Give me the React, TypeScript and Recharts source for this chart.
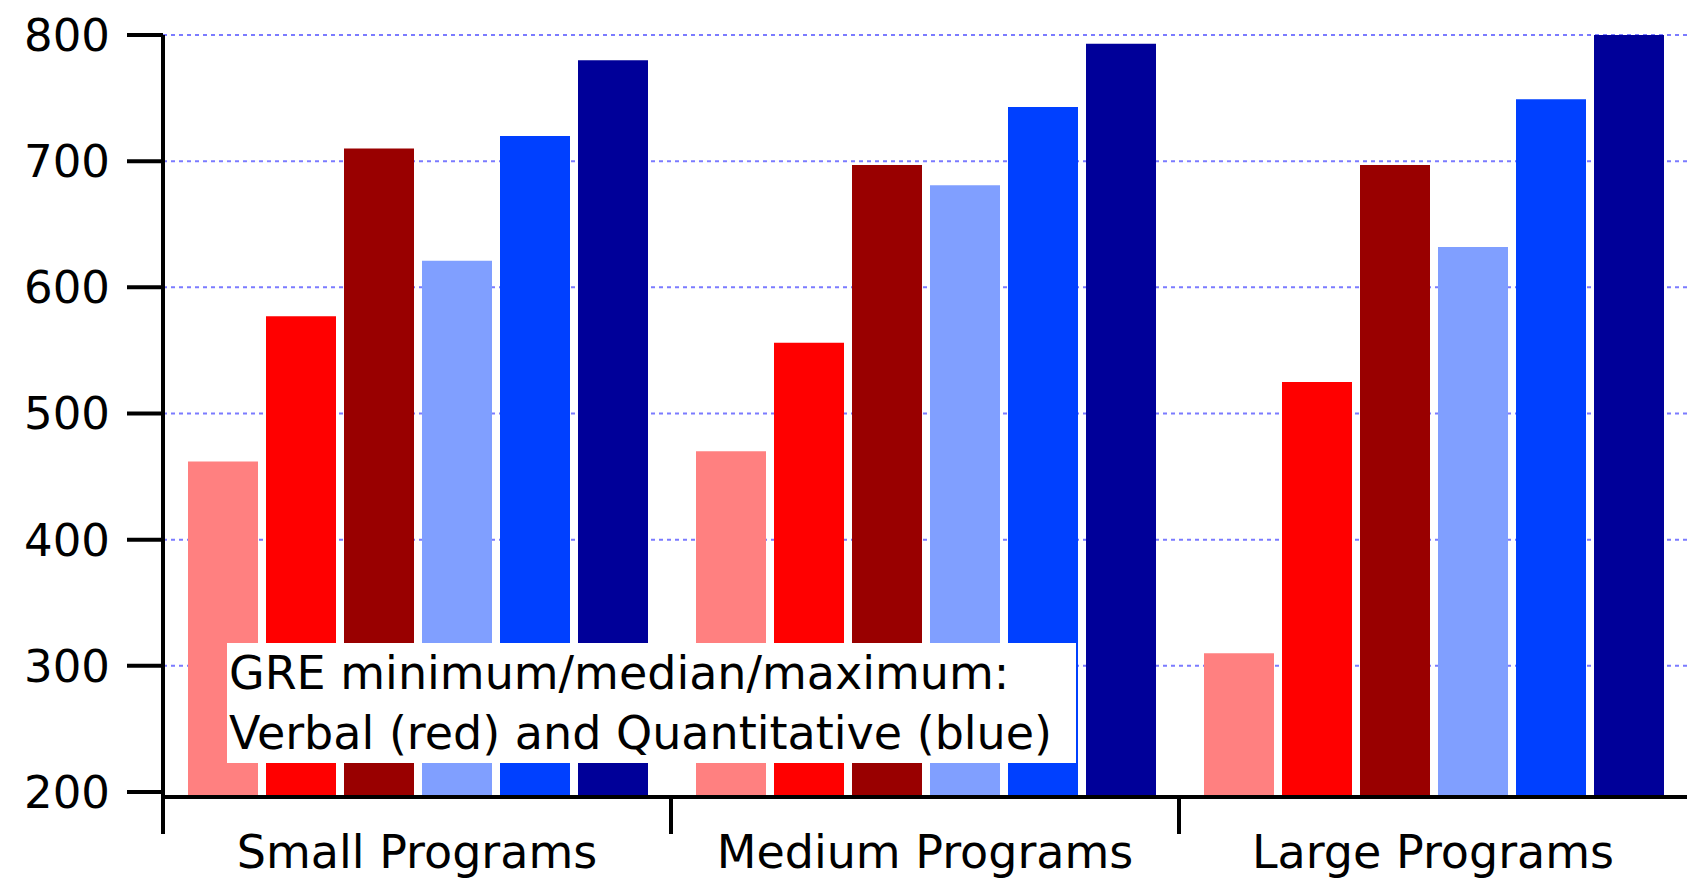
import { BarChart, Bar, XAxis, YAxis, CartesianGrid } from "recharts"

const programs = ["Small Programs", "Medium Programs", "Large Programs"]
const verbalMin = [462, 470, 310]
const verbalMedian = [577, 556, 525]
const verbalMax = [710, 697, 697]
const quantMin = [621, 681, 632]
const quantMedian = [720, 743, 749]
const quantMax = [780, 793, 800]
const yTicks = [200, 300, 400, 500, 600, 700, 800]
const gridValues = [300, 400, 500, 600, 700, 800]

const data = programs.map((program, i) => ({
    program,
    verbalMin: verbalMin[i],
    verbalMedian: verbalMedian[i],
    verbalMax: verbalMax[i],
    quantMin: quantMin[i],
    quantMedian: quantMedian[i],
    quantMax: quantMax[i],
}))

const series = [
    { key: "verbalMin", color: "#FF8080" },
    { key: "verbalMedian", color: "#FF0000" },
    { key: "verbalMax", color: "#990000" },
    { key: "quantMin", color: "#809FFF" },
    { key: "quantMedian", color: "#0040FF" },
    { key: "quantMax", color: "#000099" },
]

const font = "'DejaVu Sans', Verdana, sans-serif"

// category label plus a tick mark at the left edge of each band
const CategoryTick = (props: any) => {
    const { x, y, payload } = props
    const edge = payload.coordinate - (payload.offset ?? 0)
    return (
        <g>
            <line x1={edge} y1={y - 38} x2={edge} y2={y - 1} stroke="#000" strokeWidth={4} />
            <text x={x} y={y} dy="0.71em" textAnchor="middle" fontSize={46} fontFamily={font} fill="#000">
                {payload.value}
            </text>
        </g>
    )
}

export default function App() {
    return (
        <>
            <style>{"html,body{margin:0;overflow:hidden}"}</style>
            <div style={{ position: "relative", width: 1687, height: 878, fontFamily: font }}>
                <BarChart width={1687} height={878} data={data}
                    margin={{ top: 35, right: 0, left: 0, bottom: 0 }}
                    barCategoryGap={25} barGap={8}>
                    <CartesianGrid vertical={false} horizontalValues={gridValues}
                        stroke="#7B7BFF" strokeWidth={2} strokeDasharray="4 4" />
                    <XAxis dataKey="program" height={81} tickLine={false} tickSize={37} tickMargin={1}
                        axisLine={{ stroke: "#000", strokeWidth: 4 }} interval={0} tick={<CategoryTick />} />
                    <YAxis width={163} domain={[196, 800]} ticks={yTicks} interval={0}
                        tickSize={36} tickMargin={17}
                        axisLine={{ stroke: "#000", strokeWidth: 4 }}
                        tickLine={{ stroke: "#000", strokeWidth: 4 }}
                        tick={{ fontSize: 45, fill: "#000", fontFamily: font }} />
                    {series.map((s) => (
                        <Bar key={s.key} dataKey={s.key} fill={s.color} isAnimationActive={false} />
                    ))}
                </BarChart>
                <div style={{
                    position: "absolute", left: 227, top: 643, width: 849, height: 120,
                    background: "#fff", fontSize: 46, lineHeight: "60px", paddingLeft: 2,
                    boxSizing: "border-box", whiteSpace: "nowrap", color: "#000",
                }}>
                    GRE minimum/median/maximum:<br />
                    Verbal (red) and Quantitative (blue)
                </div>
            </div>
        </>
    )
}
